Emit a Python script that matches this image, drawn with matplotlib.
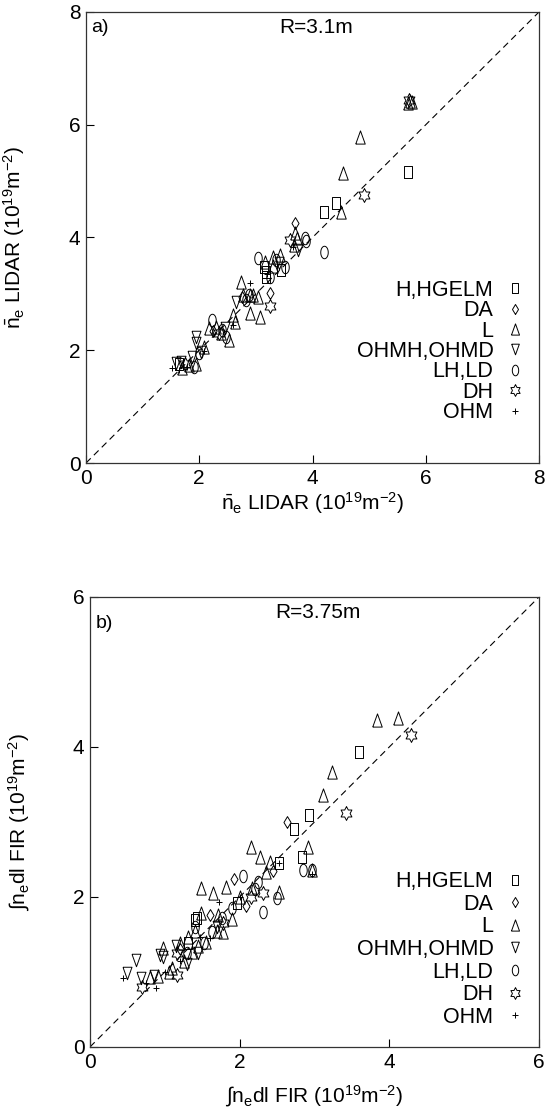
import numpy as np
import matplotlib
matplotlib.use("Agg")
import matplotlib.pyplot as plt

plt.rcParams['font.family'] = ['Liberation Sans', 'DejaVu Sans']
plt.rcParams['mathtext.fontset'] = 'custom'
plt.rcParams['mathtext.rm'] = 'Liberation Sans'
plt.rcParams['mathtext.it'] = 'Liberation Sans'

# ============================================================
# DATA
# ============================================================
labels = ['H,HGELM', 'DA', 'L', 'OHMH,OHMD', 'LH,LD', 'DH', 'OHM']

# --- panel a, R=3.1m
a_sq_x = [5.68, 4.41, 4.21, 3.44, 3.18, 3.18, 3.15, 1.65]
a_sq_y = [5.16, 4.61, 4.45, 3.42, 3.39, 3.30, 3.48, 1.75]
a_di_x = [3.69, 3.25, 2.75, 2.25]
a_di_y = [4.26, 3.01, 2.95, 2.35]
a_tu_x = [5.68, 5.72, 5.75, 4.83, 4.53, 4.51, 3.69, 3.72, 3.67, 3.16, 3.30, 3.43, 3.30,
          2.73, 2.78, 2.95, 3.04, 2.60, 2.64, 2.90, 3.08, 2.90, 2.17, 2.29, 2.38, 2.52,
          1.82, 1.70, 1.95, 2.08]
a_tu_y = [6.38, 6.42, 6.40, 5.78, 5.14, 4.45, 4.08, 3.99, 3.87, 3.56, 3.65, 3.69, 3.50,
          3.21, 2.98, 2.98, 2.94, 2.62, 2.50, 2.98, 2.59, 2.66, 2.39, 2.41, 2.31, 2.18,
          1.74, 1.68, 1.75, 2.06]
a_td_x = [3.74, 1.94, 1.94, 1.59, 1.68, 2.03, 1.87, 2.45, 2.65, 3.40]
a_td_y = [3.78, 2.23, 2.13, 1.77, 1.79, 1.97, 1.88, 2.40, 2.85, 3.55]
a_ci_x = [4.21, 3.86, 3.88, 3.04, 3.36, 3.51, 3.25, 2.87, 2.22, 2.40, 2.48, 2.82, 1.91, 2.00]
a_ci_y = [3.74, 3.99, 3.93, 3.63, 3.60, 3.48, 3.30, 2.98, 2.54, 2.36, 2.24, 2.90, 1.70, 1.95]
a_st_x = [5.70, 4.91, 3.25, 2.35, 1.75, 3.60]
a_st_y = [6.44, 4.75, 2.78, 2.30, 1.75, 3.95]
a_pl_x = [3.65, 2.90, 1.52, 1.78, 2.08, 2.60, 3.20, 1.65]
a_pl_y = [3.83, 3.19, 1.68, 1.71, 1.98, 2.45, 3.35, 1.65]

# --- panel b, R=3.75m
b_sq_x = [3.60, 2.93, 2.73, 2.53, 2.83, 1.96, 1.40, 1.31, 1.43]
b_sq_y = [3.93, 3.09, 2.90, 2.45, 2.53, 1.92, 1.69, 1.39, 1.72]
b_di_x = [2.63, 1.92, 2.08, 1.60, 2.45, 1.20]
b_di_y = [3.00, 2.24, 1.88, 1.76, 2.35, 1.30]
b_tu_x = [3.84, 4.11, 3.23, 3.11, 2.15, 2.27, 2.41, 2.92, 2.97, 2.35, 1.49, 1.65, 1.82,
          2.52, 2.17, 1.49, 1.71, 1.78, 1.31, 1.20, 1.37, 0.97, 0.80, 0.91, 1.05, 1.10,
          1.25, 1.45, 1.55, 1.40, 2.00, 1.70, 1.90]
b_tu_y = [4.36, 4.39, 3.67, 3.36, 2.67, 2.53, 2.47, 2.67, 2.36, 2.33, 2.12, 2.05, 2.13,
          2.07, 2.12, 1.78, 1.76, 1.53, 1.47, 1.39, 1.27, 1.32, 0.93, 0.95, 1.00, 1.05,
          1.15, 1.35, 1.40, 1.55, 2.00, 1.55, 1.70]
b_td_x = [0.61, 0.49, 0.68, 0.97, 0.93, 1.15, 1.30, 0.85, 1.45, 1.70]
b_td_y = [1.16, 0.99, 0.92, 1.20, 1.22, 1.35, 1.10, 0.95, 1.25, 1.60]
b_ci_x = [2.85, 2.97, 2.04, 2.24, 2.31, 2.50, 1.40, 1.76, 1.63, 1.53, 1.29, 2.20, 1.90]
b_ci_y = [2.36, 2.36, 2.28, 2.20, 1.80, 1.99, 1.60, 1.72, 1.53, 1.39, 1.25, 2.10, 1.85]
b_st_x = [4.29, 3.42, 2.31, 1.78, 1.16, 1.16, 0.70, 2.15]
b_st_y = [4.16, 3.12, 2.05, 1.65, 1.25, 0.96, 0.80, 2.00]
b_pl_x = [2.53, 1.73, 1.47, 0.88, 0.44, 2.97, 1.00, 1.20, 0.75, 1.60, 2.00]
b_pl_y = [2.45, 1.93, 1.47, 0.79, 0.92, 2.30, 1.00, 1.15, 0.85, 1.45, 2.00]

# ============================================================
# MARKERS (tall, thin outlines like the original print)
# ============================================================
m_sq = [(-0.32, -0.5), (0.32, -0.5), (0.32, 0.5), (-0.32, 0.5), (-0.32, -0.5)]
m_di = [(0, -0.5), (0.3, 0), (0, 0.5), (-0.3, 0), (0, -0.5)]
m_tu = [(-0.36, -0.5), (0.36, -0.5), (0, 0.5), (-0.36, -0.5)]
m_td = [(-0.36, 0.5), (0.36, 0.5), (0, -0.5), (-0.36, 0.5)]
_t = np.linspace(0, 2 * np.pi, 41)
m_ci = list(zip(0.3 * np.cos(_t), 0.5 * np.sin(_t)))
# star of David outline (12 corners)
_ang = np.pi / 2 + np.arange(12) * np.pi / 6
_rad = np.where(np.arange(12) % 2 == 0, 0.5, 0.5 / np.sqrt(3))
m_st = list(zip(0.9 * _rad * np.cos(_ang), _rad * np.sin(_ang)))
m_st.append(m_st[0])

markers = [m_sq, m_di, m_tu, m_td, m_ci, m_st, '+']
sizes = [9, 8.5, 9.5, 9, 9, 10, 5]


def draw_panel(ax, series, lim, tag, rtitle, label, leg_y, leg_sp, tag_y, ylab_x, xlab_y):
    ax.plot([0, lim], [0, lim], color='k', lw=0.8, dashes=(6, 4))
    for (x, y), lab, m, s in zip(series, labels, markers, sizes):
        ax.plot(x, y, linestyle='none', marker=m, ms=s, mfc='none', mec='k',
                mew=0.7, label=lab)
    ax.set_xlim(0, lim)
    ax.set_ylim(0, lim)
    ticks = np.arange(0, lim + 1, 2)
    ax.set_xticks(ticks)
    ax.set_yticks(ticks)
    ax.tick_params(direction='in', length=6, width=0.8, labelsize=15, pad=4)
    for sp in ax.spines.values():
        sp.set_linewidth(0.9)
        sp.set_color('#333333')
    ax.set_xlabel(label, fontsize=15)
    ax.set_ylabel(label, fontsize=15)
    ax.yaxis.set_label_coords(ylab_x, 0.5)
    ax.xaxis.set_label_coords(0.5, xlab_y)
    ax.text(0.012, tag_y, tag, transform=ax.transAxes, fontsize=14, va='center', ha='left')
    ax.text(0.508, 0.965, rtitle, transform=ax.transAxes, fontsize=15, va='center', ha='center')
    ax.legend(markerfirst=False, frameon=False, loc='upper right',
              bbox_to_anchor=(0.985, leg_y), fontsize=15.5, handlelength=0.8,
              handletextpad=0.6, labelspacing=leg_sp, borderaxespad=0,
              markerscale=0.85, numpoints=1)


fig = plt.figure(figsize=(5.46, 11.2), dpi=100)
ax1 = fig.add_axes([0.1575, 0.5866, 0.8297, 0.4027])
ax2 = fig.add_axes([0.1648, 0.0652, 0.8223, 0.4018])

lab_a = r'$\bar{\mathregular{n}}_{\mathregular{e}}$ LIDAR (10$^{\mathregular{19}}$m$^{\mathregular{-2}}$)'
lab_b = r'∫n$_{\mathregular{e}}$dl FIR (10$^{\mathregular{19}}$m$^{\mathregular{-2}}$)'

series_a = [(a_sq_x, a_sq_y), (a_di_x, a_di_y), (a_tu_x, a_tu_y), (a_td_x, a_td_y),
            (a_ci_x, a_ci_y), (a_st_x, a_st_y), (a_pl_x, a_pl_y)]
series_b = [(b_sq_x, b_sq_y), (b_di_x, b_di_y), (b_tu_x, b_tu_y), (b_td_x, b_td_y),
            (b_ci_x, b_ci_y), (b_st_x, b_st_y), (b_pl_x, b_pl_y)]

draw_panel(ax1, series_a, 8, 'a)', 'R=3.1m', lab_a, 0.425, -0.03, 0.965, -0.13, -0.06)
draw_panel(ax2, series_b, 6, 'b)', 'R=3.75m', lab_b, 0.41, 0.075, 0.942, -0.13, -0.08)

fig.savefig('out.png', dpi=100)
